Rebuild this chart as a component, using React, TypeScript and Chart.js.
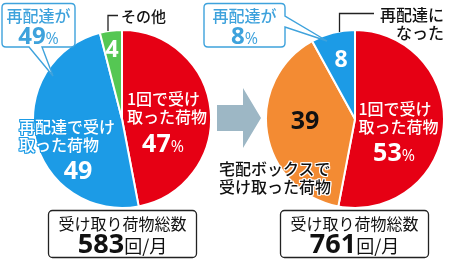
import React, { useEffect, useRef } from "react";
import { Chart, registerables } from "chart.js";

Chart.register(...registerables);

// ---- data ----
const beforeLabels = ["1回で受け取った荷物", "再配達で受け取った荷物", "その他"];
const beforeValues = [47, 49, 4];
const afterLabels = ["1回で受け取った荷物", "宅配ボックスで受け取った荷物", "再配達になった"];
const afterValues = [53, 39, 8];
const totalLabel = "受け取り荷物総数";
const totals = [583, 761];
const totalUnit = "回/月";
const redeliveryShare = [49, 8];

const RED = "#e60014";
const BLUE = "#1c9be6";
const GREEN = "#55c753";
const ORANGE = "#f38b33";
const CALLOUT = "#3ea2dc";
const ARROW = "#9db7c5";
const FONT = '"Noto Sans CJK JP", "Noto Sans", sans-serif';
const NUMFONT = '"Open Sans", "Noto Sans", sans-serif';

function Pie(props: {
  labels: string[];
  values: number[];
  colors: string[];
  left: number;
  top: number;
  size: number;
  radius: number;
}) {
  const ref = useRef<HTMLCanvasElement | null>(null);
  useEffect(() => {
    if (!ref.current) return;
    const chart = new Chart(ref.current, {
      type: "pie",
      data: {
        labels: props.labels,
        datasets: [
          {
            data: props.values,
            backgroundColor: props.colors,
            borderColor: "#ffffff",
            borderWidth: 2,
            radius: props.radius,
          } as any,
        ],
      },
      options: {
        responsive: false,
        animation: false,
        layout: { padding: 0 },
        plugins: { legend: { display: false }, tooltip: { enabled: false }, title: { display: false } },
      },
    });
    return () => chart.destroy();
  }, []);
  return (
    <canvas
      ref={ref}
      width={props.size}
      height={props.size}
      style={{ position: "absolute", left: props.left, top: props.top, width: props.size, height: props.size }}
    />
  );
}

const T = (p: { x: number; y: number; children: any; style?: any; align?: "left" | "center" | "right" }) => {
  const align = p.align || "left";
  const tx = align === "left" ? "0" : align === "center" ? "-50%" : "-100%";
  return (
    <div
      style={{
        position: "absolute",
        left: p.x,
        top: p.y,
        transform: `translateX(${tx})`,
        whiteSpace: "nowrap",
        fontFamily: FONT,
        textAlign: align,
        ...p.style,
      }}
    >
      {p.children}
    </div>
  );
};

const jp = { fontSize: 16, lineHeight: "18px", fontWeight: 500 };
const big = { fontFamily: NUMFONT, fontWeight: 700, fontSize: 25, lineHeight: "26px" };
const pct = { fontSize: 16, fontWeight: 500, fontFamily: NUMFONT };
const halo = (c: string) => ({
  textShadow: `1px 0 0 ${c},-1px 0 0 ${c},0 1px 0 ${c},0 -1px 0 ${c},1px 1px 0 ${c},-1px -1px 0 ${c},1px -1px 0 ${c},-1px 1px 0 ${c}`,
});

export default function App() {
  useEffect(() => {
    document.body.style.margin = "0";
  }, []);
  return (
    <div style={{ position: "fixed", left: 0, top: 0, width: 450, height: 260, background: "#fff", overflow: "hidden" }}>
      <Pie labels={beforeLabels} values={beforeValues} colors={[RED, BLUE, GREEN]} left={32} top={29} size={180} radius={89} />
      <Pie labels={afterLabels} values={afterValues} colors={[RED, ORANGE, BLUE]} left={265} top={29} size={180} radius={89} />

      <svg width={450} height={260} style={{ position: "absolute", left: 0, top: 0 }}>
        {/* arrow */}
        <polygon points="217,105 243,105 243,88 261,118 243,148 243,131 217,131" fill={ARROW} />
        {/* left callout */}
        <path
          d="M6,3.5 H71 Q75,3.5 75,7.5 V43 Q75,47 71,47 H42 L53,76 L29,47 H6 Q2,47 2,43 V7.5 Q2,3.5 6,3.5 Z"
          fill="#fff"
          stroke={CALLOUT}
          strokeWidth={1.4}
        />
        {/* right callout */}
        <path
          d="M208,3.5 H281 Q285,3.5 285,7.5 V16 L327,41 L285,27 V43 Q285,47 281,47 H208 Q204,47 204,43 V7.5 Q204,3.5 208,3.5 Z"
          fill="#fff"
          stroke={CALLOUT}
          strokeWidth={1.4}
        />
        {/* leaders */}
        <polyline points="108,31 108,15.5 118,15.5" fill="none" stroke="#222" strokeWidth={1.3} />
        <polyline points="339.5,32 339.5,13.5 374,13.5" fill="none" stroke="#222" strokeWidth={1.3} />
        {/* total boxes */}
        <rect x={48.5} y={210.5} width={148} height={47} rx={4} fill="#fff" stroke="#222" strokeWidth={1.3} />
        <rect x={280.5} y={210.5} width={148} height={47} rx={4} fill="#fff" stroke="#222" strokeWidth={1.3} />
      </svg>

      {/* left callout text */}
      <T x={38.5} y={6} align="center" style={{ ...jp, color: CALLOUT, fontSize: 16 }}>再配達が</T>
      <T x={38.5} y={22} align="center" style={{ color: CALLOUT }}>
        <span style={{ ...big, fontSize: 24 }}>{redeliveryShare[0]}</span>
        <span style={{ ...pct }}>%</span>
      </T>
      {/* right callout text */}
      <T x={244.5} y={6} align="center" style={{ ...jp, color: CALLOUT, fontSize: 16 }}>再配達が</T>
      <T x={244.5} y={22} align="center" style={{ color: CALLOUT }}>
        <span style={{ ...big, fontSize: 24 }}>{redeliveryShare[1]}</span>
        <span style={{ ...pct }}>%</span>
      </T>

      {/* left pie labels */}
      <T x={121} y={7} style={{ ...jp, fontSize: 15, color: "#111" }}>{beforeLabels[2]}</T>
      <T x={112} y={35} align="center" style={{ ...big, fontSize: 23, color: "#fff" }}>{beforeValues[2]}</T>
      <T x={127} y={89} style={{ ...jp, color: "#fff", ...halo(RED) }}>1回で受け<br />取った荷物</T>
      <T x={163} y={129} align="center" style={{ color: "#fff" }}>
        <span style={big}>{beforeValues[0]}</span>
        <span style={pct}>%</span>
      </T>
      <T x={19} y={117} style={{ ...jp, color: "#fff", ...halo(BLUE) }}>再配達で受け<br />取った荷物</T>
      <T x={78} y={156} align="center" style={{ ...big, color: "#fff" }}>{beforeValues[1]}</T>

      {/* right pie labels */}
      <T x={444} y={5} align="right" style={{ ...jp, color: "#111" }}>再配達に<br />なった</T>
      <T x={341} y={45} align="center" style={{ ...big, fontSize: 23, color: "#fff" }}>{afterValues[2]}</T>
      <T x={305} y={106} align="center" style={{ ...big, color: "#111" }}>{afterValues[1]}</T>
      <T x={358.5} y={99} style={{ ...jp, color: "#fff", ...halo(RED) }}>1回で受け<br />取った荷物</T>
      <T x={394} y={138} align="center" style={{ color: "#fff" }}>
        <span style={big}>{afterValues[0]}</span>
        <span style={pct}>%</span>
      </T>
      <T x={219} y={159} style={{ ...jp, color: "#111", ...halo("#fff") }}>宅配ボックスで<br />受け取った荷物</T>

      {/* totals */}
      <T x={122.5} y={214} align="center" style={{ ...jp, fontWeight: 400, color: "#111" }}>{totalLabel}</T>
      <T x={122.5} y={230} align="center" style={{ color: "#111" }}>
        <span style={{ ...big, fontSize: 27 }}>{totals[0]}</span>
        <span style={{ fontSize: 18, fontWeight: 400 }}>{totalUnit}</span>
      </T>
      <T x={354.5} y={214} align="center" style={{ ...jp, fontWeight: 400, color: "#111" }}>{totalLabel}</T>
      <T x={354.5} y={230} align="center" style={{ color: "#111" }}>
        <span style={{ ...big, fontSize: 27 }}>{totals[1]}</span>
        <span style={{ fontSize: 18, fontWeight: 400 }}>{totalUnit}</span>
      </T>
    </div>
  );
}
